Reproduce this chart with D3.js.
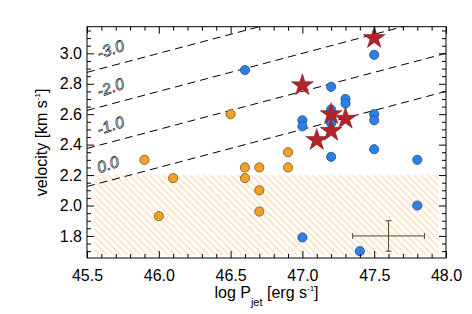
<html> <head>
<script src="https://d3js.org/d3.v7.min.js"></script>
<style>
  body { margin: 0; background: #fff; }
  text { font-family: "Liberation Sans", Arial, sans-serif; }
</style>
</head>
<body>
  <div id="chart"></div>
<script>

// constants
const canvas = [472, 314];
const box = {left: 87, right: 446, top: 26.7, bottom: 258};

// data
const orangeX = [45.9, 46.0, 46.1, 46.5, 46.6, 46.6, 46.7, 46.7, 46.7, 46.9, 46.9];
const orangeY = [2.30, 1.93, 2.18, 2.60, 2.25, 2.18, 2.25, 2.10, 1.96, 2.25, 2.35];

const blueX = [46.6, 47.0, 47.0, 47.0, 47.2, 47.2, 47.2, 47.2, 47.3, 47.3, 47.4, 47.5, 47.5, 47.5, 47.5, 47.8, 47.8];
const blueY = [2.89, 2.56, 2.52, 1.79, 2.78, 2.63, 2.54, 2.32, 2.70, 2.67, 1.70, 2.99, 2.60, 2.56, 2.37, 2.30, 2.00];

const starX = [47.0, 47.1, 47.2, 47.2, 47.3, 47.5];
const starY = [2.79, 2.43, 2.60, 2.49, 2.57, 3.10];

// dashed lines: v = base + slope * (logP - 45.5)
const lineLabels = ['0.0', '-1.0', '-2.0', '-3.0'];
const lineBase = [2.125, 2.375, 2.625, 2.875];
const lineSlope = 0.25;

// hatched zone
const zoneX = [45.55, 47.95];
const zoneY = [1.675, 2.2];

// typical error bar
const errX = 47.6, errY = 1.80, errDx = 0.25, errDy = 0.10;

const xTicks = [45.5, 46.0, 46.5, 47.0, 47.5, 48.0];
const yTicks = [1.8, 2.0, 2.2, 2.4, 2.6, 2.8, 3.0];

const zip = (xs, ys) => xs.map((x, i) => [x, ys[i]]);

const svg = d3.select('#chart').append('svg')
  .attr('width', canvas[0])
  .attr('height', canvas[1]);

const x = d3.scaleLinear().domain([45.5, 48.0]).range([box.left, box.right]);
const y = d3.scaleLinear().domain([1.655, 3.175]).range([box.bottom, box.top]);

// clip + hatch pattern
const defs = svg.append('defs');
defs.append('clipPath').attr('id', 'clip').append('rect')
  .attr('x', box.left).attr('y', box.top)
  .attr('width', box.right - box.left).attr('height', box.bottom - box.top);
const pat = defs.append('pattern')
  .attr('id', 'hatch')
  .attr('patternUnits', 'userSpaceOnUse')
  .attr('width', 4.8).attr('height', 10)
  .attr('patternTransform', 'rotate(-45)');
pat.append('line')
  .attr('x1', 1).attr('y1', 0).attr('x2', 1).attr('y2', 10)
  .style('stroke', '#eea43a').style('stroke-width', 0.8).style('opacity', 0.7);

const plot = svg.append('g').attr('clip-path', 'url(#clip)');

// hatched region
plot.append('rect')
  .attr('x', x(zoneX[0]))
  .attr('y', y(zoneY[1]))
  .attr('width', x(zoneX[1]) - x(zoneX[0]))
  .attr('height', y(zoneY[0]) - y(zoneY[1]))
  .style('fill', 'url(#hatch)');

// dashed lines
lineBase.forEach((b) => {
  plot.append('line')
    .attr('x1', x(45.5)).attr('y1', y(b))
    .attr('x2', x(48.0)).attr('y2', y(b + lineSlope * 2.5))
    .style('stroke', '#000').style('stroke-width', 1)
    .style('stroke-dasharray', '8,5');
});

// line labels
const ang = Math.atan2(y(lineSlope) - y(0), x(46.5) - x(45.5)) * 180 / Math.PI;
lineLabels.forEach((lab, i) => {
  const lx = 45.585;
  const ly = lineBase[i] + lineSlope * (lx - 45.5) + 0.066;
  svg.append('text')
    .attr('transform', `translate(${x(lx)}, ${y(ly)}) rotate(${ang - 4})`)
    .text(lab)
    .style('font-size', '16px')
    .style('font-style', 'italic')
    .style('fill', '#fff')
    .style('stroke', '#000')
    .style('stroke-width', 0.6);
});

// points
plot.selectAll('.orange').data(zip(orangeX, orangeY)).enter().append('circle')
  .attr('cx', d => x(d[0])).attr('cy', d => y(d[1])).attr('r', 4.6)
  .style('fill', '#f0a328').style('stroke', '#7a5212').style('stroke-width', 0.8);

plot.selectAll('.blue').data(zip(blueX, blueY)).enter().append('circle')
  .attr('cx', d => x(d[0])).attr('cy', d => y(d[1])).attr('r', 4.6)
  .style('fill', '#2d80e6').style('stroke', '#1d4f94').style('stroke-width', 0.8);

const star = d3.symbol().type(d3.symbolStar).size(150);
plot.selectAll('.star').data(zip(starX, starY)).enter().append('path')
  .attr('d', star)
  .attr('transform', d => `translate(${x(d[0])}, ${y(d[1])})`)
  .style('fill', '#b0242a').style('stroke', '#7a1418').style('stroke-width', 0.5);

// error bar
const eb = svg.append('g').style('stroke', '#5b4630').style('stroke-width', 1);
eb.append('line').attr('x1', x(errX - errDx)).attr('x2', x(errX + errDx))
  .attr('y1', y(errY)).attr('y2', y(errY));
eb.append('line').attr('x1', x(errX)).attr('x2', x(errX))
  .attr('y1', y(errY - errDy)).attr('y2', y(errY + errDy));
[errX - errDx, errX + errDx].forEach(v => eb.append('line')
  .attr('x1', x(v)).attr('x2', x(v)).attr('y1', y(errY) - 3).attr('y2', y(errY) + 3));
[errY - errDy, errY + errDy].forEach(v => eb.append('line')
  .attr('x1', x(errX) - 3).attr('x2', x(errX) + 3).attr('y1', y(v)).attr('y2', y(v)));

// axes: ticks pointing inwards on all four sides
const xMinor = d3.range(45.6, 48.0, 0.1).filter(v => Math.abs(v * 2 - Math.round(v * 2)) > 0.01);
const yMinor = d3.range(1.70, 3.175, 0.05).filter(v => Math.abs(v * 5 - Math.round(v * 5)) > 0.01);

const axisStyle = g => {
  g.select('.domain').remove();
  g.selectAll('.tick line').style('stroke', '#000');
};
const noText = g => g.selectAll('text').remove();

svg.append('g').attr('transform', `translate(0, ${box.bottom})`)
  .call(d3.axisBottom(x).tickValues(xTicks).tickSizeInner(-7).tickPadding(12).tickFormat(d3.format('.1f')))
  .call(axisStyle)
  .call(g => g.selectAll('text').style('font-size', '16px').style('fill', '#000').attr('font-family', null));
svg.append('g').attr('transform', `translate(0, ${box.bottom})`)
  .call(d3.axisBottom(x).tickValues(xMinor).tickSizeInner(-4)).call(axisStyle).call(noText);
svg.append('g').attr('transform', `translate(0, ${box.top})`)
  .call(d3.axisTop(x).tickValues(xTicks).tickSizeInner(-7)).call(axisStyle).call(noText);
svg.append('g').attr('transform', `translate(0, ${box.top})`)
  .call(d3.axisTop(x).tickValues(xMinor).tickSizeInner(-4)).call(axisStyle).call(noText);

svg.append('g').attr('transform', `translate(${box.left}, 0)`)
  .call(d3.axisLeft(y).tickValues(yTicks).tickSizeInner(-7).tickPadding(5).tickFormat(d3.format('.1f')))
  .call(axisStyle)
  .call(g => g.selectAll('text').style('font-size', '16px').style('fill', '#000').attr('font-family', null));
svg.append('g').attr('transform', `translate(${box.left}, 0)`)
  .call(d3.axisLeft(y).tickValues(yMinor).tickSizeInner(-4)).call(axisStyle).call(noText);
svg.append('g').attr('transform', `translate(${box.right}, 0)`)
  .call(d3.axisRight(y).tickValues(yTicks).tickSizeInner(-7)).call(axisStyle).call(noText);
svg.append('g').attr('transform', `translate(${box.right}, 0)`)
  .call(d3.axisRight(y).tickValues(yMinor).tickSizeInner(-4)).call(axisStyle).call(noText);

// frame
svg.append('rect')
  .attr('x', box.left).attr('y', box.top)
  .attr('width', box.right - box.left).attr('height', box.bottom - box.top)
  .style('fill', 'none').style('stroke', '#000').style('stroke-width', 1);

// axis titles
const xt = svg.append('text')
  .attr('x', (box.left + box.right) / 2).attr('y', 298)
  .attr('text-anchor', 'middle')
  .style('font-size', '16px');
xt.append('tspan').text('log P');
xt.append('tspan').text('jet').attr('dy', 8).style('font-size', '11px');
xt.append('tspan').text(' [erg s').attr('dy', -8);
xt.append('tspan').text('-1').attr('dy', -7).style('font-size', '8px');
xt.append('tspan').text(']').attr('dy', 7);

const yt = svg.append('text')
  .attr('transform', `translate(47, ${(box.top + box.bottom) / 2}) rotate(-90)`)
  .attr('text-anchor', 'middle')
  .style('font-size', '16px');
yt.append('tspan').text('velocity [km s');
yt.append('tspan').text('-1').attr('dy', -7).style('font-size', '8px');
yt.append('tspan').text(']').attr('dy', 7);

</script> </body></html>
